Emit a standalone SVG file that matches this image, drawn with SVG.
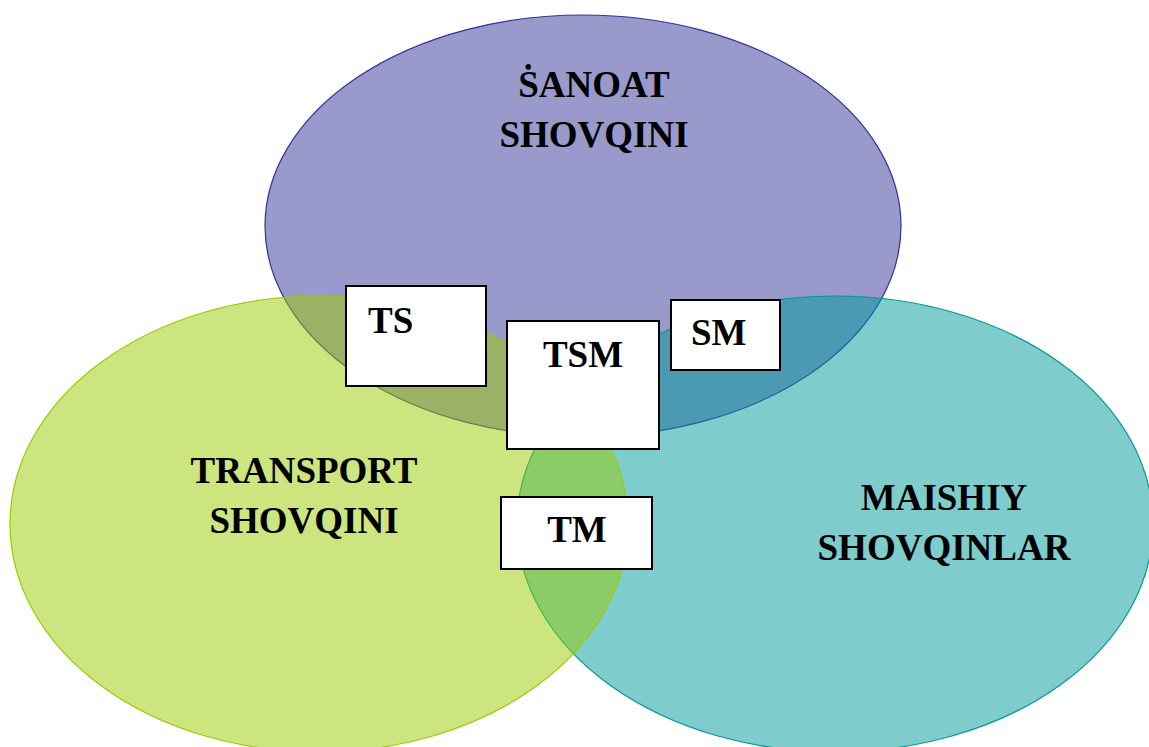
<svg xmlns="http://www.w3.org/2000/svg" width="1149" height="747" viewBox="0 0 1149 747">
<style>
.el{fill-opacity:0.5;stroke-width:1.2}
.box{fill:#ffffff;stroke:#000000;stroke-width:2}
.t{font-family:"Liberation Serif","Times New Roman",serif;font-weight:bold;font-size:37px;fill:#000000}
.c{text-anchor:middle}
</style>
<rect width="1149" height="747" fill="#ffffff"/>
<g id="sanoat">
<ellipse class="el" cx="583" cy="226" rx="318" ry="211" fill="#333399" stroke="#333399"/>
</g>
<g id="maishiy">
<ellipse class="el" cx="835" cy="524" rx="318" ry="228" fill="#009999" stroke="#009999"/>
</g>
<g id="transport">
<ellipse class="el" cx="319" cy="524" rx="309" ry="228" fill="#99cc00" stroke="#99cc00"/>
</g>
<g id="labels">
<text class="t c" x="594" y="97">ṠANOAT</text>
<text class="t c" x="594" y="147">SHOVQINI</text>
<text class="t c" x="304" y="483">TRANSPORT</text>
<text class="t c" x="304" y="533">SHOVQINI</text>
<text class="t c" x="944" y="510">MAISHIY</text>
<text class="t c" x="944" y="560">SHOVQINLAR</text>
</g>
<g id="ts">
<rect class="box" x="346" y="286" width="140" height="100"/>
<text class="t" x="368" y="333">TS</text>
</g>
<g id="tsm">
<rect class="box" x="507" y="321" width="152" height="128"/>
<text class="t c" x="583" y="367">TSM</text>
</g>
<g id="sm">
<rect class="box" x="671" y="300" width="109" height="70"/>
<text class="t" x="691" y="345">SM</text>
</g>
<g id="tm">
<rect class="box" x="501" y="497" width="151" height="72"/>
<text class="t c" x="577" y="542">TM</text>
</g>
<g id="connectors"></g>
</svg>
